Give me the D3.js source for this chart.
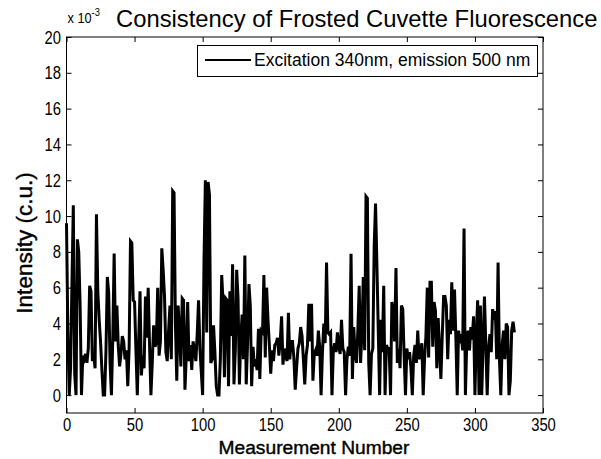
<!DOCTYPE html>
<html>
<head>
<meta charset="utf-8">
<script src="https://cdn.jsdelivr.net/npm/d3@7"></script>
<style>
  body { margin: 0; background: #fff; }
  text { font-family: 'Liberation Sans', Arial, sans-serif; fill: #000; }
</style>
</head>
<body>
<div id="chart"></div>
<script>
const title = 'Consistency of Frosted Cuvette Fluorescence'
const xLabel = 'Measurement Number'
const yLabel = 'Intensity (c.u.)'
const legendLabel = 'Excitation 340nm, emission 500 nm'
const xTicks = [0, 50, 100, 150, 200, 250, 300, 350]
const yTicks = [0, 2, 4, 6, 8, 10, 12, 14, 16, 18, 20]

// intensity in units of 10^-3, one value per measurement
const intensity = [
  9.6, 3.5, 0, 1.5, 6.2, 10.6, 1.2, 0, 8.7, 8.0,
  5.0, 0, 2.2, 2.0, 2.3, 1.8, 2.6, 6.1, 5.8, 1.9,
  2.2, 1.5, 10.1, 5.8, 4.2, 3.0, 1.4, 0, 0, 2.5,
  6.6, 5.7, 1.8, 0, 3.2, 7.9, 3.0, 5.0, 2.8, 1.6,
  2.3, 3.3, 3.0, 2.0, 2.5, 0.5, 2.6, 8.6, 8.5, 5.3,
  5.2, 2.5, 0, 3.0, 5.8, 1.1, 2.2, 1.5, 5.5, 3.2,
  6.0, 2.8, 0, 1.8, 3.9, 2.7, 2.9, 6.0, 2.2, 3.0,
  8.2, 7.0, 5.5, 2.4, 1.9, 3.6, 5.0, 2.0, 11.4, 11.3,
  4.0, 0.8, 5.0, 3.6, 1.6, 5.4, 5.3, 0.3, 2.2, 5.2,
  1.9, 2.8, 1.4, 3.0, 2.5, 1.9, 3.4, 5.3, 2.6, 1.3,
  0, 7.5, 12.0, 3.5, 11.9, 11.2, 1.8, 2.0, 3.9, 2.4,
  0.5, 0, 0, 2.0, 6.7, 5.2, 1.0, 5.4, 5.3, 0.5,
  5.8, 3.3, 7.3, 0.6, 2.5, 7.0, 5.4, 0.6, 3.1, 4.5,
  2.0, 7.8, 0.6, 2.9, 6.2, 5.0, 0.5, 2.7, 1.6, 2.0,
  1.4, 3.7, 0.9, 3.6, 3.5, 6.7, 2.1, 6.0, 4.2, 2.8,
  1.2, 2.5, 1.9, 2.8, 2.9, 3.2, 2.2, 3.0, 4.4, 1.7,
  2.6, 2.2, 1.9, 4.6, 2.0, 3.0, 3.0, 2.1, 0.3, 1.5,
  2.6, 2.9, 3.8, 3.3, 2.0, 0.6, 2.2, 2.8, 5.1, 3.0,
  5.1, 0.8, 2.3, 2.5, 2.2, 3.6, 2.7, 0, 2.4, 4.0,
  2.9, 7.4, 3.5, 3.4, 3.5, 0, 2.5, 2.9, 2.4, 3.5,
  2.7, 2.3, 4.2, 2.6, 2.4, 0, 2.0, 2.7, 2.2, 7.9,
  0.9, 3.8, 2.3, 1.8, 3.6, 6.1, 1.8, 3.5, 6.6, 2.5,
  11.1, 11.0, 1.8, 0, 2.3, 2.6, 8.3, 10.7, 7.3, 3.6,
  0, 4.2, 2.4, 6.1, 0, 2.8, 2.6, 2.6, 0, 5.2,
  4.7, 3.0, 7.1, 1.8, 2.6, 1.5, 5.0, 4.8, 2.2, 0,
  2.6, 2.0, 2.4, 1.5, 0, 2.2, 2.8, 1.8, 3.6, 2.0,
  2.4, 2.9, 0, 2.0, 3.3, 6.0, 2.1, 6.3, 6.3, 2.7,
  5.2, 4.7, 1.5, 4.3, 2.6, 0.9, 3.3, 5.5, 5.5, 5.0,
  2.0, 4.2, 3.4, 6.3, 3.6, 5.9, 3.2, 0, 3.6, 2.9,
  3.4, 2.5, 9.3, 0, 3.0, 3.6, 2.5, 3.8, 3.1, 4.4,
  0, 3.3, 5.3, 0, 5.0, 0, 2.9, 5.5, 2.8, 0,
  2.6, 3.4, 2.4, 4.8, 4.2, 4.7, 2.0, 7.4, 2.0, 0,
  2.8, 3.6, 2.0, 4.0, 3.8, 0, 0.8, 3.6, 4.1, 3.5
]

const width = 601
const height = 459
const margin = { top: 37, right: 58, bottom: 46, left: 66.5 }
const innerW = width - margin.left - margin.right
const innerH = height - margin.top - margin.bottom

const svg = d3.select('#chart')
  .append('svg')
  .attr('width', width)
  .attr('height', height)

const x = d3.scaleLinear().domain([0, 350]).range([margin.left, margin.left + innerW])
const y = d3.scaleLinear().domain([-1, 20]).range([margin.top + innerH, margin.top])

// data line
const line = d3.line()
  .x((d, i) => x(i))
  .y(d => y(d))

svg.append('path')
  .datum(intensity)
  .attr('fill', 'none')
  .attr('stroke', '#000')
  .attr('stroke-width', 3)
  .attr('stroke-linejoin', 'miter')
  .attr('d', line)

// axes with inward ticks on all four sides
const tickLen = 5
svg.append('g')
  .attr('transform', `translate(0,${margin.top + innerH})`)
  .call(d3.axisBottom(x).tickValues(xTicks).tickSize(-tickLen).tickPadding(5).tickFormat(d3.format('d')))
svg.append('g')
  .attr('transform', `translate(0,${margin.top})`)
  .call(d3.axisTop(x).tickValues(xTicks).tickSize(-tickLen).tickFormat(''))
svg.append('g')
  .attr('transform', `translate(${margin.left},0)`)
  .call(d3.axisLeft(y).tickValues(yTicks).tickSize(-tickLen).tickPadding(7).tickFormat(d3.format('d')))
svg.append('g')
  .attr('transform', `translate(${margin.left + innerW},0)`)
  .call(d3.axisRight(y).tickValues(yTicks).tickSize(-tickLen).tickFormat(''))

svg.selectAll('.domain').remove()
svg.selectAll('.tick line').attr('stroke', '#000')
// narrow, tall digits like the original figure
svg.selectAll('.tick text')
  .style('font-size', '19px')
  .attr('transform', 'scale(0.78,1)')
  .attr('fill', '#000')

svg.append('rect')
  .attr('x', margin.left)
  .attr('y', margin.top)
  .attr('width', innerW)
  .attr('height', innerH)
  .attr('fill', 'none')
  .attr('stroke', '#000')
  .attr('stroke-width', 1)

// exponent label
const expo = svg.append('text')
  .attr('transform', `translate(${margin.left + 1},23) scale(0.85,1)`)
  .style('font-size', '15px')
expo.append('tspan').text('x 10')
expo.append('tspan').attr('dy', -7).style('font-size', '11px').text('-3')

// title
svg.append('text')
  .attr('x', 116)
  .attr('y', 27)
  .style('font-size', '23.8px')
  .text(title)

// axis labels
svg.append('text')
  .attr('x', 314)
  .attr('y', 454)
  .attr('text-anchor', 'middle')
  .style('font-size', '19.2px')
  .attr('stroke', '#000')
  .attr('stroke-width', 0.4)
  .text(xLabel)

svg.append('text')
  .attr('transform', 'translate(32,243) rotate(-90)')
  .attr('text-anchor', 'middle')
  .style('font-size', '22.5px')
  .attr('stroke', '#000')
  .attr('stroke-width', 0.4)
  .text(yLabel)

// legend
svg.append('rect')
  .attr('x', 197.5)
  .attr('y', 45.5)
  .attr('width', 340)
  .attr('height', 31)
  .attr('fill', '#fff')
  .attr('stroke', '#000')
const legend = svg.append('g')
legend.append('line')
  .attr('x1', 205)
  .attr('x2', 251)
  .attr('y1', 60)
  .attr('y2', 60)
  .attr('stroke', '#000')
  .attr('stroke-width', 2)
legend.append('text')
  .attr('x', 254)
  .attr('y', 66)
  .style('font-size', '17.5px')
  .text(legendLabel)
</script>
</body>
</html>
